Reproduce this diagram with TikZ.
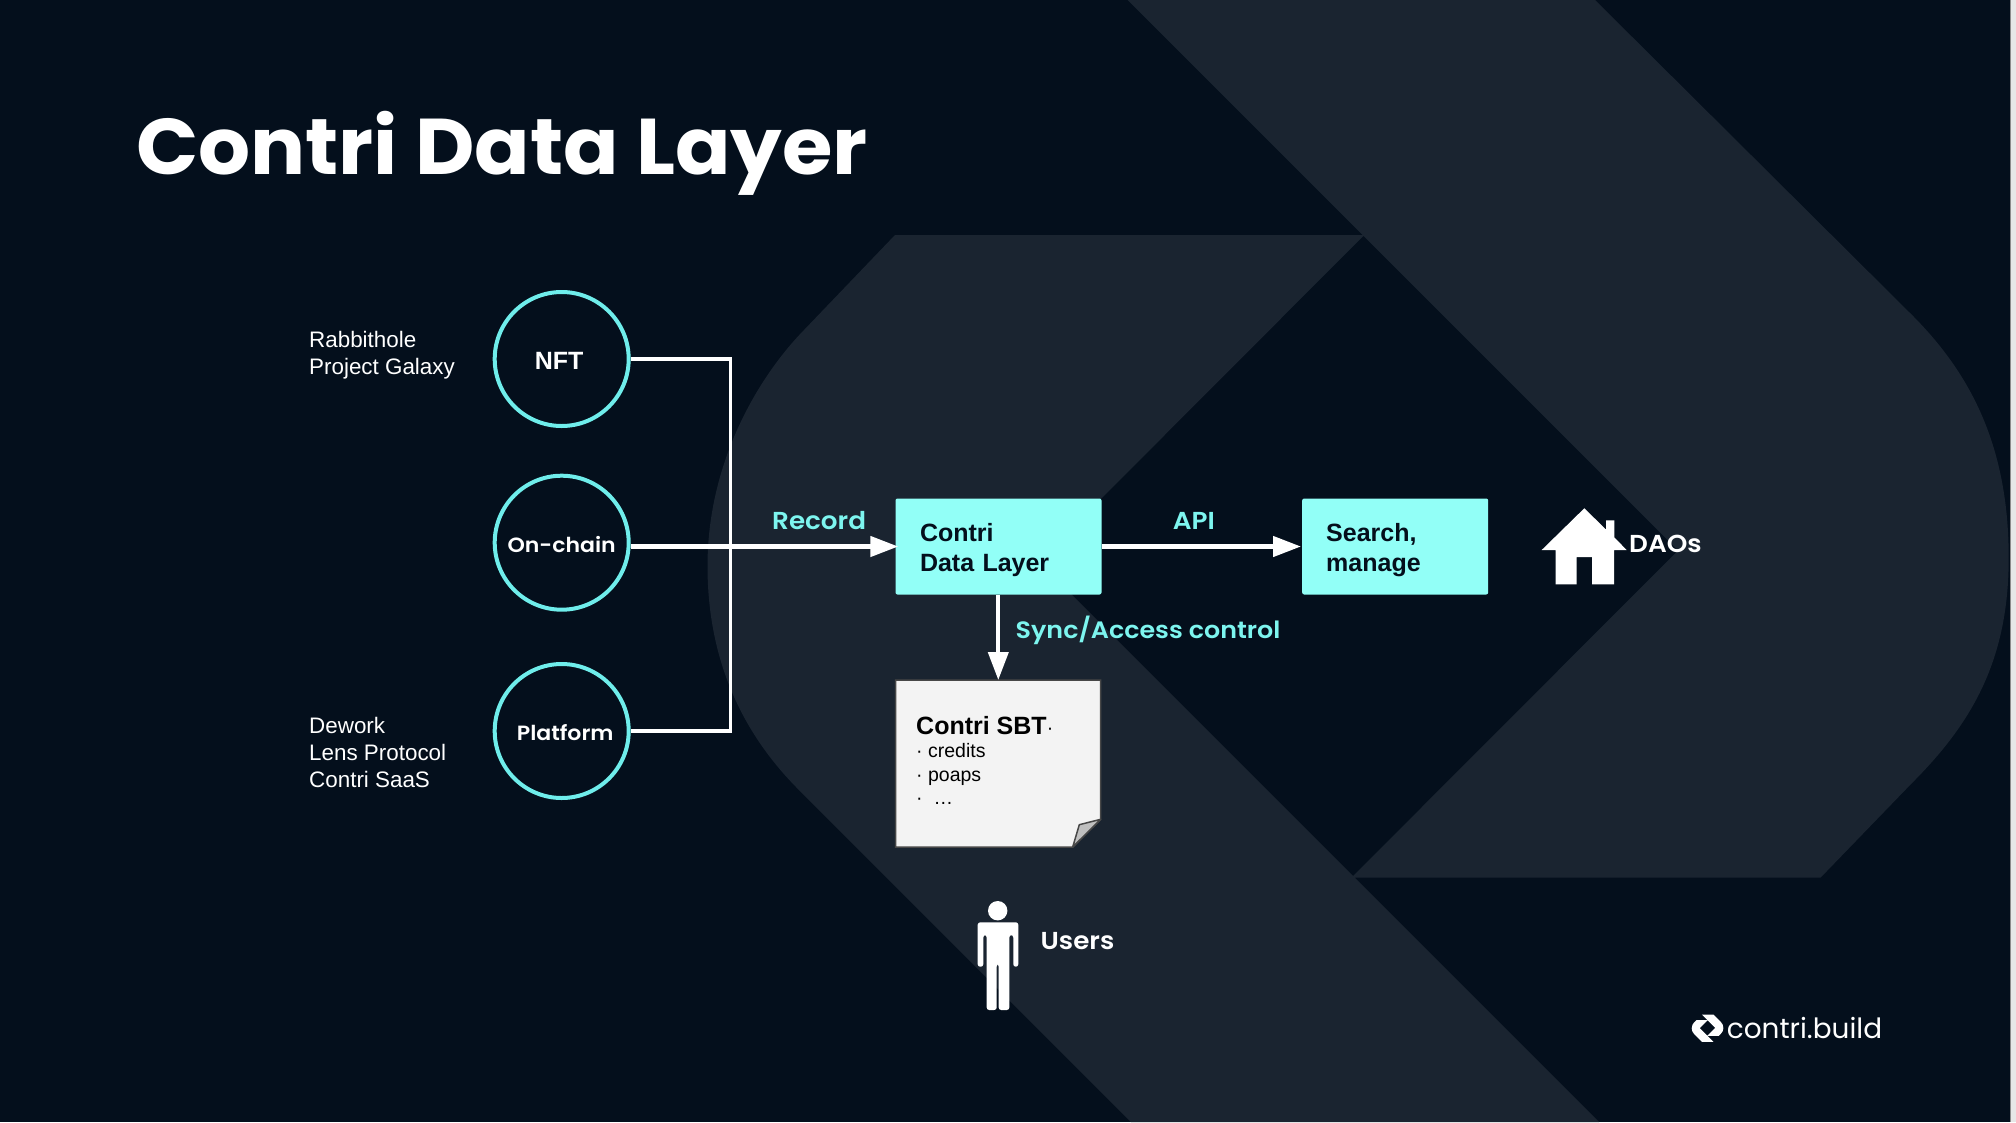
\documentclass[tikz,border=0pt]{standalone}
\usepackage{fontspec}
\usepackage{tikz}
\usetikzlibrary{arrows.meta, positioning}

\setmainfont{Liberation Sans}
\newfontfamily\montfont[FakeStretch=1.07]{Poppins SemiBold}
\newfontfamily\titlefont[FakeStretch=1.035]{Poppins Bold}
\newfontfamily\logofont{Poppins}

\definecolor{pagedark}{HTML}{040F1C}
\definecolor{chevron}{HTML}{1A2430}
\definecolor{aqua}{HTML}{92FFF7}
\definecolor{ring}{HTML}{6FEDEB}
\definecolor{labelaqua}{HTML}{7DF5EF}
\definecolor{paper}{HTML}{F3F3F3}

% outline of the two chevrons, also used for the logo
\newcommand{\chevronpath}{
    (1127.6,0) -- (1595,0) -- (1912,315)
    .. controls (1972,375) and (2008.7,448) .. (2008.7,558)
    .. controls (2008.7,660) and (1972,723) .. (1912,783)
    -- (1820.5,877.7) -- (1351.4,877.7) -- (1678,550.5) -- (1364.3,236.7) -- cycle
    (895,235) -- (1364.3,235) -- (1038.5,561.5) -- (1599,1122) -- (1131,1122)
    -- (796,787)
    .. controls (750,740) and (707.5,670) .. (707.5,566)
    .. controls (707.5,460) and (760,375) .. (804,330) -- cycle
}

\tikzset{
    source/.style = {circle, draw=ring, line width=4pt, minimum size=134pt,
        inner sep=0pt, text=white, execute at begin node=\rule{0pt}{20pt}},
    aquabox/.style = {rectangle, fill=aqua, rounded corners=2pt, inner sep=0pt,
        minimum height=96pt, anchor=west, align=left, text=pagedark,
        execute at begin node=\rule{0pt}{26pt},
        font=\fontsize{25}{30}\selectfont\bfseries},
    sidetext/.style = {anchor=base west, inner sep=0pt, align=left, text=white,
        font=\fontsize{22.4}{26.8}\selectfont},
    flowlabel/.style = {anchor=base west, inner sep=0pt, text=labelaqua,
        font=\fontsize{24.5}{28}\montfont},
    whitelabel/.style = {anchor=base west, inner sep=0pt, text=white,
        font=\fontsize{24.5}{28}\montfont},
    wire/.style = {draw=white, line width=3.5pt, line join=miter},
    flow/.style = {wire, line width=4.5pt, -{Triangle[length=28pt, width=20pt]}},
}

\begin{document}
\begin{tikzpicture} [x=1pt, y=-1pt, node distance = 184pt, on grid]

            % Backdrop
            \useasboundingbox (0,0) rectangle (2016,1122);
            \fill [pagedark] (0,0) rectangle (2016,1122);
            \fill [chevron] \chevronpath;
            \fill [paper!95!black] (2010,0) rectangle (2016,1122);
            \fill [black!45] (2009.5,0) rectangle (2011,1122);

            % Title
            \node (title) [anchor=base west, inner sep=0pt, text=white,
                font=\fontsize{79}{90}\titlefont] at (136,174) {Contri Data Layer};

            % Sources
            \node (nft) [source, font=\fontsize{25}{28}\selectfont\bfseries]
                at (561.7,359) {NFT\hspace*{5pt}};
            \node (onchain) [source, below = 183.7pt of nft,
                font=\fontsize{20.6}{26}\montfont] {On-chain};
            \node (platform) [source, below = 188.3pt of onchain,
                font=\fontsize{20.6}{26}\montfont] {\hspace*{7pt}Platform};

            % Source names
            \node (galaxy) [sidetext] at (309,374.6) {Rabbithole\\Project Galaxy};
            \node (dework) [sidetext] at (309,787) {Dework\\Lens Protocol\\Contri SaaS};

            % Boxes
            \node (data) [aquabox, minimum width=206pt, text width=206pt]
                at (895.3,546.5) {\hspace*{24.5pt}Contri\\\hspace*{24.5pt}Data Layer};
            \node (search) [aquabox, minimum width=186pt, text width=186pt]
                at (1302,546.5) {\hspace*{24pt}Search,\\\hspace*{24pt}manage};

            % Soulbound note
            \coordinate (sbtnw) at (895.7,680);
            \coordinate (sbtfold) at (1079.3,824.7);
            \coordinate (sbtfoot) at (1072.7,847);
            \coordinate (sbtedge) at (1100.7,819.3);
            \filldraw [fill=paper, draw=black!72, line width=1.5pt]
                (sbtnw) -- (sbtnw -| sbtedge) -- (sbtedge) -- (sbtfoot)
                -- (sbtfoot -| sbtnw) -- cycle;
            \filldraw [fill=black!25, draw=black!72, line width=1.5pt, line join=round]
                (sbtedge) -- (sbtfold) -- (sbtfoot) -- cycle;
            \node (sbt) [anchor=base west, inner sep=0pt, align=left, text=black,
                font=\fontsize{19.5}{23.2}\selectfont] at (916,804.3)
                {{\fontsize{25}{25}\selectfont\bfseries Contri SBT}·\\· credits\\· poaps\\·\ \ …};
            \coordinate (sbttop) at (998.3,680);

            % Arrows
            \coordinate (trunk) at (730.7,546.5);
            \draw [wire] (nft.east) -- (nft.east -| trunk)
                -- (platform.east -| trunk) -- (platform.east);
            \draw [flow, shorten >=-3pt] (onchain.east |- data.west) -- (data.west);
            \draw [flow, shorten >=1pt] (data.east) -- (search.west);
            \draw [flow, line width=4pt] (data.south -| sbttop) -- (sbttop);

            % Arrow labels
            \node (record) [flowlabel] at (772,529) {Record};
            \node (api) [flowlabel] at (1172.6,529) {API};
            \node (sync) [flowlabel, font=\fontsize{23.7}{28}\montfont] at (1015.5,638) {Sync/Access control};

            % House
            \fill [white] (1584.3,508.3) -- (1606,529.5) -- (1606,520.3) -- (1614.3,520.3)
                -- (1614.3,537.5) -- (1626.7,550) -- (1614,550) -- (1614,584.3)
                -- (1592,584.3) -- (1592,557) -- (1576.7,557) -- (1576.7,584.3)
                -- (1555.7,584.3) -- (1555.7,550) -- (1541.7,550) -- cycle;
            \node (daos) [whitelabel] at (1629,552.2) {DAOs};

            % Person
            \fill [white] (997.7,910.7) circle [radius=9.7];
            \fill [white, rounded corners=2.5pt] (977.7,966.7) -- (977.7,922.3) -- (1018.3,922.3)
                -- (1018.3,966.7) -- (1013.3,966.7) -- (1013.3,935) -- (1009.3,935)
                -- (1009.3,1010) -- (998.7,1010) -- (998.7,964) -- (996.7,964)
                -- (996.7,1010) -- (986.7,1010) -- (986.7,935) -- (983.3,935)
                -- (983.3,966.7) -- cycle;
            \node (users) [whitelabel] at (1040.5,949.7) {Users};

            % Logo
            \begin{scope} [shift={(1691.7,1014.5)}, scale=0.0243, shift={(-707.5,0)}]
                \fill [white] \chevronpath;
            \end{scope}
            \node (logo) [anchor=base west, inner sep=0pt, text=white,
                font=\fontsize{27.9}{32}\logofont] at (1726.7,1038) {contri.build};
        \end{tikzpicture}
\end{document}
